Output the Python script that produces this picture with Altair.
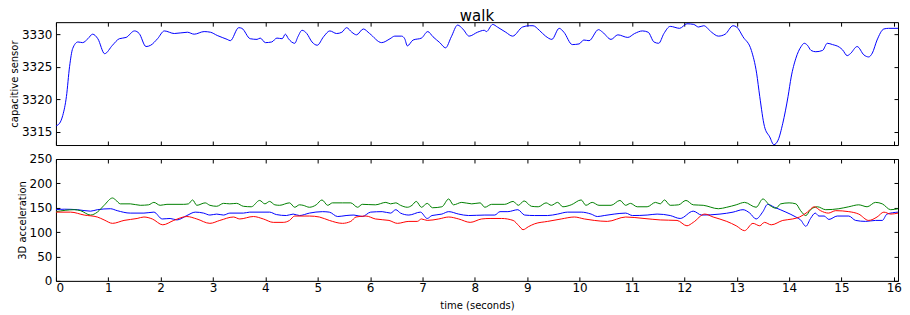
import altair as alt
import pandas as pd

# ---------------- data ----------------
cap_t = [0.00, 0.07, 0.13, 0.20, 0.26, 0.32, 0.42, 0.51, 0.61, 0.70, 0.80, 0.93, 1.08, 1.21, 1.34,
         1.50, 1.59, 1.72, 1.81, 1.94, 2.07, 2.26, 2.51, 2.64, 2.83, 2.95, 3.08, 3.27, 3.33, 3.49,
         3.55, 3.71, 3.84, 3.90, 4.00, 4.12, 4.22, 4.32, 4.38, 4.44, 4.56, 4.62, 4.70, 4.79, 4.89,
         4.99, 5.11, 5.23, 5.36, 5.46, 5.55, 5.65, 5.74, 5.87, 5.99, 6.22, 6.38, 6.47, 6.60, 6.66,
         6.71, 6.82, 6.98, 7.10, 7.20, 7.33, 7.44, 7.55, 7.67, 7.77, 7.89, 8.05, 8.18, 8.22, 8.34,
         8.43, 8.59, 8.72, 8.91, 9.04, 9.11, 9.23, 9.35, 9.47, 9.61, 9.70, 9.86, 9.99, 10.08, 10.18,
         10.36, 10.44, 10.60, 10.73, 10.92, 11.05, 11.20, 11.31, 11.42, 11.51, 11.61, 11.73, 11.91,
         12.05, 12.18, 12.27, 12.37, 12.52, 12.65, 12.78, 12.93, 13.00, 13.12, 13.28, 13.38, 13.44,
         13.53, 13.63, 13.71, 13.79, 13.88, 13.98, 14.04, 14.13, 14.23, 14.29, 14.35, 14.42, 14.51,
         14.64, 14.73, 14.83, 14.96, 15.02, 15.11, 15.17, 15.30, 15.43, 15.52, 15.59, 15.68, 15.81,
         15.90, 16.08]
cap_v = [3315.9, 3316.3, 3317.5, 3320.4, 3325.0, 3327.8, 3328.8, 3328.7, 3329.3, 3330.0, 3329.3,
         3327.0, 3328.3, 3329.3, 3329.5, 3330.5, 3330.1, 3328.1, 3328.3, 3329.3, 3330.5, 3330.1,
         3330.3, 3330.0, 3330.4, 3330.3, 3329.8, 3329.2, 3329.0, 3331.0, 3330.9, 3329.3, 3329.2,
         3329.4, 3328.7, 3328.8, 3329.4, 3329.3, 3330.0, 3329.3, 3328.6, 3329.6, 3330.6, 3330.1,
         3328.8, 3328.3, 3329.6, 3330.5, 3330.1, 3330.3, 3331.0, 3330.3, 3329.9, 3330.8, 3330.1,
         3328.7, 3329.3, 3329.7, 3329.7, 3329.3, 3328.2, 3329.1, 3329.4, 3330.4, 3329.6, 3328.7,
         3327.9, 3329.6, 3331.4, 3330.8, 3329.7, 3330.3, 3330.6, 3330.4, 3331.5, 3331.1, 3330.3,
         3329.7, 3331.1, 3331.3, 3331.3, 3330.6, 3329.7, 3329.2, 3330.9, 3330.3, 3328.4, 3328.5,
         3329.1, 3329.0, 3330.7, 3330.3, 3329.2, 3329.9, 3329.5, 3330.1, 3330.5, 3330.3, 3328.8,
         3328.6, 3330.1, 3331.2, 3330.9, 3331.6, 3331.5, 3331.1, 3331.3, 3330.3, 3329.7, 3330.0,
         3331.3, 3331.1, 3329.6, 3327.5, 3324.0, 3320.4, 3315.8, 3314.2, 3313.0, 3313.7, 3316.3,
         3320.4, 3323.4, 3326.3, 3328.1, 3328.6, 3328.3, 3327.5, 3327.3, 3327.5, 3328.6, 3328.4,
         3328.0, 3327.6, 3326.7, 3327.0, 3328.1, 3326.8, 3326.5, 3327.1, 3329.1, 3330.8, 3330.9,
         3330.9]

green_t = [0.00, 0.35, 0.47, 0.66, 0.79, 0.92, 1.08, 1.14, 1.23, 1.42, 1.61, 1.77, 1.87, 1.99, 2.12,
           2.44, 2.53, 2.61, 2.69, 2.85, 2.94, 3.07, 3.20, 3.32, 3.45, 3.58, 3.73, 3.89, 3.99, 4.08,
           4.18, 4.27, 4.46, 4.56, 4.65, 4.72, 4.84, 4.97, 5.08, 5.19, 5.28, 5.47, 5.63, 5.76, 5.85,
           6.10, 6.30, 6.39, 6.49, 6.58, 6.71, 6.80, 6.88, 6.98, 7.09, 7.19, 7.37, 7.50, 7.59, 7.75,
           7.94, 8.10, 8.19, 8.32, 8.57, 8.73, 8.83, 8.94, 9.08, 9.21, 9.36, 9.46, 9.58, 9.68, 9.84,
           10.03, 10.12, 10.24, 10.37, 10.60, 10.77, 10.88, 10.97, 11.10, 11.29, 11.45, 11.54, 11.62,
           11.73, 11.89, 12.03, 12.17, 12.36, 12.65, 12.81, 12.99, 13.15, 13.37, 13.50, 13.63, 13.75,
           13.84, 14.00, 14.13, 14.22, 14.32, 14.41, 14.54, 14.70, 14.95, 15.14, 15.33, 15.49, 15.65,
           15.78, 15.94, 16.08]
green_v = [142, 146, 144, 135, 141, 155, 170, 166, 158, 158, 155, 156, 161, 155, 157,
           157, 158, 166, 155, 160, 155, 153, 159, 158, 159, 153, 152, 165, 158, 163,
           156, 155, 160, 151, 156, 155, 151, 156, 166, 155, 160, 160, 160, 151, 157,
           156, 161, 158, 160, 155, 151, 155, 163, 151, 159, 150, 152, 168, 156, 161,
           158, 160, 151, 157, 157, 163, 155, 164, 153, 152, 160, 155, 161, 152, 156,
           166, 155, 161, 155, 155, 165, 155, 159, 152, 152, 161, 158, 166,
           155, 156, 165, 156, 155, 148, 151, 156, 161, 151, 168, 155, 149,
           158, 160, 158, 144, 134, 146, 152, 146, 148, 152, 156, 152, 161,
           158, 146, 148]

blue_t = [0.00, 0.16, 0.41, 0.66, 0.79, 1.04, 1.17, 1.42, 1.68, 1.87, 2.03, 2.18, 2.31, 2.50, 2.66,
          2.82, 2.94, 3.07, 3.20, 3.32, 3.58, 3.70, 4.08, 4.21, 4.40, 4.53, 4.65, 4.84, 5.09, 5.22,
          5.38, 5.54, 5.69, 5.85, 6.01, 6.23, 6.39, 6.49, 6.58, 6.74, 6.96, 7.09, 7.18, 7.37, 7.50,
          7.69, 7.88, 8.19, 8.38, 8.48, 8.63, 8.82, 8.95, 9.14, 9.39, 9.58, 9.77, 10.03, 10.22,
          10.34, 10.47, 10.66, 10.88, 11.01, 11.29, 11.48, 11.73, 11.92, 12.17, 12.33, 12.68, 12.93,
          13.12, 13.25, 13.37, 13.50, 13.59, 13.72, 13.94, 14.13, 14.22, 14.32, 14.41, 14.50, 14.57,
          14.67, 14.76, 14.92, 15.14, 15.27, 15.46, 15.65, 15.78, 15.87, 16.08]
blue_v = [146, 147, 146, 143, 146, 148, 144, 139, 139, 141, 127, 128, 125, 134, 141,
          139, 135, 137, 135, 139, 139, 141, 141, 136, 134, 137, 134, 139, 142, 141,
          132, 134, 135, 132, 141, 142, 139, 146, 139, 135, 141, 128, 134, 137, 142,
          137, 134, 135, 135, 142, 142, 146, 135, 134, 134, 137, 141, 141, 137,
          132, 134, 137, 139, 134, 135, 137, 134, 128, 143, 135, 137, 141,
          146, 139, 127, 142, 157, 151, 141, 131, 125, 112, 128, 139, 133,
          133, 126, 133, 133, 124, 122, 124, 124, 137, 141]

red_t = [0.00, 0.28, 0.54, 0.79, 0.92, 1.08, 1.30, 1.55, 1.68, 1.84, 2.04, 2.25, 2.50, 2.69, 2.94,
         3.13, 3.39, 3.51, 3.77, 3.96, 4.15, 4.34, 4.46, 4.56, 4.84, 5.03, 5.22, 5.47, 5.63, 5.73,
         5.92, 6.10, 6.36, 6.52, 6.74, 6.90, 6.98, 7.09, 7.31, 7.50, 7.69, 7.91, 8.13, 8.29, 8.51,
         8.73, 8.84, 8.92, 9.02, 9.14, 9.39, 9.65, 9.90, 10.09, 10.28, 10.53, 10.88, 11.23, 11.54,
         11.86, 12.05, 12.17, 12.39, 12.55, 12.81, 12.99, 13.15, 13.31, 13.44, 13.53, 13.66, 13.88,
         14.07, 14.20, 14.35, 14.48, 14.60, 14.75, 14.89, 15.14, 15.33, 15.52, 15.68, 15.81, 15.94,
         16.08]
red_v = [141, 141, 135, 131, 125, 118, 124, 128, 131, 127, 115, 124, 132, 127, 118,
         124, 131, 127, 132, 127, 120, 120, 124, 133, 133, 131, 124, 118, 122, 131,
         133, 127, 124, 118, 122, 122, 127, 124, 127, 131, 127, 120, 127, 128, 128,
         124, 113, 105, 111, 117, 122, 127, 131, 127, 124, 122, 131, 128, 125,
         124, 113, 120, 137, 131, 122, 113, 103, 118, 113, 120, 115, 124,
         127, 131, 141, 152, 144, 139, 144, 142, 137, 124, 131, 141, 137,
         139]

x_ticks = list(range(17))
cap_ticks = [3315, 3320, 3325, 3330]
acc_ticks = [0, 50, 100, 150, 200, 250]

X_DOM = [0, 16.08]
CAP_DOM = [3312.95, 3331.85]
ACC_DOM = [0, 250]

# ---------------- chart ----------------
FONT = "DejaVu Sans"
IN = alt.ExprRef(expr="-4")

cap_df = pd.DataFrame({"t": cap_t, "v": cap_v})
red_df = pd.DataFrame({"t": red_t, "v": red_v})
green_df = pd.DataFrame({"t": green_t, "v": green_v})
blue_df = pd.DataFrame({"t": blue_t, "v": blue_v})

xs = alt.Scale(domain=X_DOM, nice=False, zero=False)
cs = alt.Scale(domain=CAP_DOM, nice=False, zero=False)
accs = alt.Scale(domain=ACC_DOM, nice=False, zero=False)


def ax(orient, values, labels, title=None, pad=8, tpad=2):
    kw = dict(orient=orient, values=values, labels=labels, tickSize=IN,
              domain=True, domainColor="black", domainWidth=1,
              grid=False, minExtent=0, tickColor="black", tickWidth=1, format="d",
              labelFont=FONT, labelFontSize=12, labelColor="black", labelPadding=pad,
              titleFont=FONT, titleFontSize=10, titleFontWeight="normal", titleColor="black",
              titlePadding=tpad, title=title)
    if not labels:
        kw["maxExtent"] = 0
    return alt.Axis(**kw)


def lines(df, color, yscale, xaxis, yaxis, opacity=1.0):
    return alt.Chart(df).mark_line(color=color, strokeWidth=1, interpolate="monotone",
                                   opacity=opacity, clip=True).encode(
        x=alt.X("t:Q", scale=xs, axis=xaxis),
        y=alt.Y("v:Q", scale=yscale, axis=yaxis),
    )


W = 843

top_main = lines(cap_df, "#0000ff", cs,
                 ax("bottom", x_ticks, False),
                 ax("left", cap_ticks, True, "capacitive sensor", pad=8))
top_mirror = lines(cap_df, "#0000ff", cs,
                   ax("top", x_ticks, False),
                   ax("right", cap_ticks, False), opacity=0)

top = alt.layer(top_main, top_mirror).resolve_axis(x="independent", y="independent").properties(
    width=W, height=123,
    title=alt.TitleParams("walk", font=FONT, fontSize=15, fontWeight="normal", color="black",
                          anchor="middle", frame="group", offset=-2),
)

bot_blue = lines(blue_df, "#0000ff", accs,
                 ax("bottom", x_ticks, True, "time (seconds)", pad=6, tpad=7),
                 ax("left", acc_ticks, True, "3D acceleration", pad=8))
bot_green = lines(green_df, "#008000", accs, None, None)
bot_red = lines(red_df, "#ff0000", accs, None, None)
bot_mirror = lines(red_df, "#ff0000", accs,
                   ax("top", x_ticks, False),
                   ax("right", acc_ticks, False), opacity=0)

bottom = alt.layer(bot_blue, bot_green, bot_red, bot_mirror).resolve_axis(
    x="independent", y="independent").properties(width=W, height=122)

chart = alt.vconcat(top, bottom, spacing=6).properties(
    padding={"left": 0, "top": 0, "right": 0, "bottom": 0}
).configure_view(stroke=None).configure(background="white")

chart.save("out.html", embed_options={"renderer": "svg", "actions": False})
